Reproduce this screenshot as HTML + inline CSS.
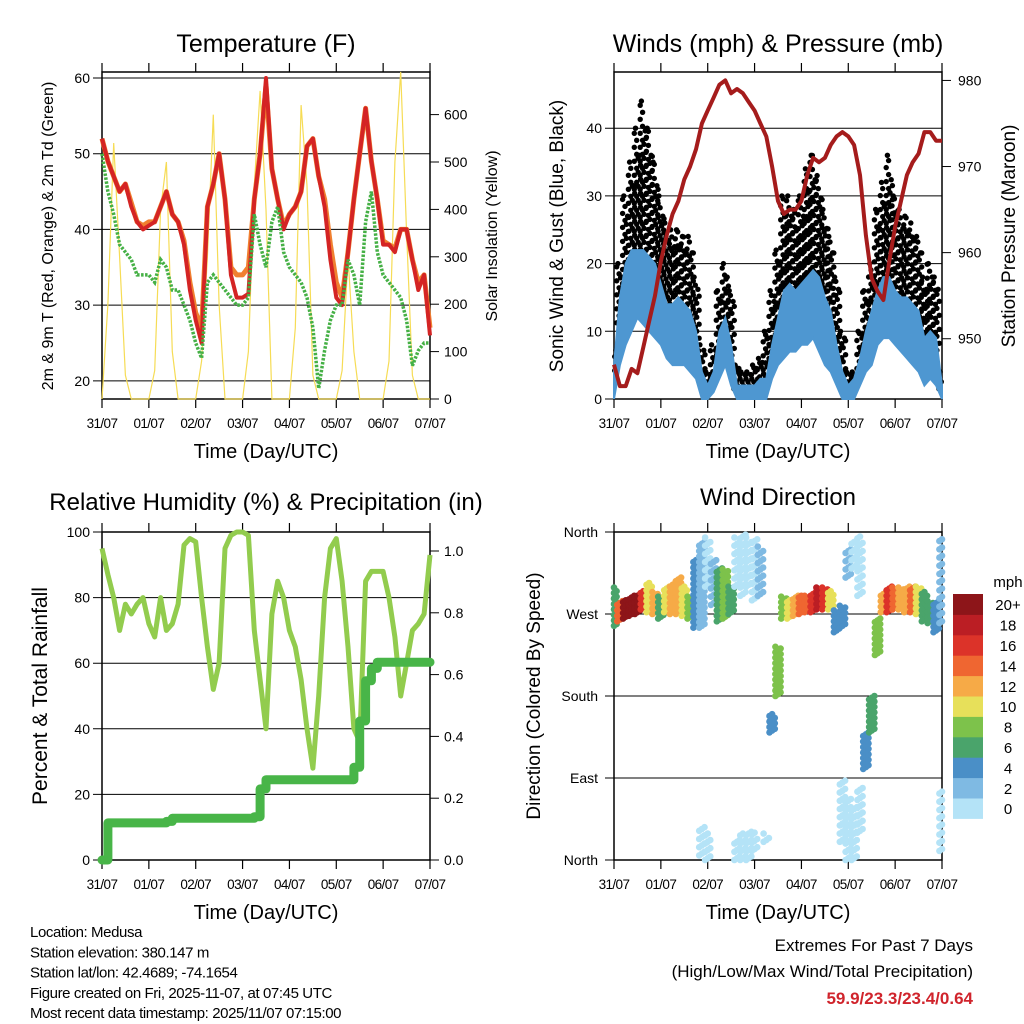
<!DOCTYPE html>
<html><head><meta charset="utf-8"><title>Station Meteogram</title>
<style>
html,body{margin:0;padding:0;background:#fff;}
svg{display:block;font-family:"Liberation Sans",sans-serif;}
.tk{font-size:13.5px;letter-spacing:-0.6px;}
</style></head>
<body>
<svg id="fig" width="1024" height="1024" viewBox="0 0 1024 1024" xmlns="http://www.w3.org/2000/svg">
<g id="root"></g>
</svg>
<script>
// ---------- data (3-hourly, 57 samples from 31/07 00 UTC to 07/07) ----------
const dayLabels = ["31/07","01/07","02/07","03/07","04/07","05/07","06/07","07/07"];
const temp2m = [52,49,47,45,46,43,41,40,40.5,41,43,45,42,41,38,32,28,25,43,46,50,44,34,31,31,31.5,44,50,60,48,44,40,42,43,45,51,52,47,43,36,31,30,37,44,50,56,49,44,38,38,37,40,40,36,32,34,26];
const temp9m = [52,49,47,45,46,43.5,41,40.5,41,41,43,45,42,41,38.5,33,29,27,43,46,50,44,35,34,34,35,44,50,59,48,44,40.5,42,43,45,51,52,47,44,38,33,31,37,44,50,56,49,44,38.5,38,37.5,40,40,36,33,34,27];
const dewpt = [50,45,42,38,37,36,34,34,34,33,36,35,32,32,30,28,25,23,33,34,33,32,31,30,30,31,42,38,35,41,43,37,35,34,33,31,27,19,24,28,30,30,36,34,30,41,45,37,34,33,32,31,28,22,24,25,25];
const solar = [0,200,540,300,50,0,0,0,0,60,400,500,100,0,0,0,0,80,300,600,200,0,0,0,0,100,450,650,400,0,0,0,0,150,620,450,50,0,0,0,0,60,300,100,0,0,0,0,0,80,500,690,350,50,0,0,0];
const windLo = [0,5,8,10,12,11,10,9,8,6,5,5,5,4,3,0,0,1,3,5,2,0,0,0,0,0,0,3,5,6,7,7,8,8,9,7,5,4,2,0,0,0,2,4,5,8,9,9,8,7,6,5,4,2,3,2,0];
const windHi = [5,15,20,22,22,22,21,20,17,14,14,15,14,13,10,4,2,4,10,12,8,2,2,2,2,3,3,8,12,16,17,16,17,18,19,18,15,13,8,4,2,3,6,10,13,16,18,18,16,15,15,14,13,9,10,9,2];
const gust = [8,20,30,35,40,44,40,35,30,26,25,25,24,24,18,8,4,8,16,20,16,5,4,4,5,6,10,16,22,30,30,28,30,34,36,33,28,24,18,10,4,4,10,16,20,28,32,36,30,28,27,26,24,18,20,18,4];
const pressure = [947,944.5,944.5,946.5,946,949,952,955,959,962,964.5,966,968.5,970,972,975,976.5,978,979.5,980,978.5,979,978.5,977.5,976.5,975,973.5,970,966,964.5,965,965,966,969,971,970.5,971,972.5,973.5,974,973.5,972.5,969,962,957,955.5,954.5,959,963,966,969,970.5,971.5,974,974,973,973];
const rh = [95,87,80,70,78,75,78,80,72,68,80,70,72,78,96,98,97,80,65,52,60,95,99,100,100,99,70,55,40,75,85,80,70,65,55,40,28,50,80,95,98,85,65,40,36,85,88,88,88,80,68,50,60,70,72,75,93];
const precip = [0,0.12,0.12,0.12,0.12,0.12,0.12,0.12,0.12,0.12,0.12,0.125,0.135,0.135,0.135,0.135,0.135,0.135,0.135,0.135,0.135,0.135,0.135,0.135,0.135,0.135,0.14,0.23,0.26,0.26,0.26,0.26,0.26,0.26,0.26,0.26,0.26,0.26,0.26,0.26,0.26,0.26,0.26,0.30,0.45,0.58,0.62,0.64,0.64,0.64,0.64,0.64,0.64,0.64,0.64,0.64,0.64];
const dirLo = [255,262,265,268,270,275,272,270,265,272,270,270,268,265,255,255,300,280,262,265,270,300,290,300,285,290,20,140,180,265,265,268,270,272,272,275,275,275,250,255,310,320,290,100,140,225,272,272,275,275,272,272,270,262,260,250,260];
const dirHi = [300,285,285,290,292,295,305,295,290,300,305,310,300,290,330,350,355,330,320,320,300,355,360,355,355,345,30,160,235,290,285,290,290,290,295,300,300,295,275,280,345,355,355,140,180,265,295,300,300,300,300,300,300,295,285,285,355];
const dirSpd = [6,14,20,20,20,16,10,12,6,10,12,12,10,8,4,3,1,2,6,8,6,1,1,1,1,2,1,5,8,8,10,12,14,14,16,18,16,10,4,4,2,1,1,4,6,8,12,16,14,12,12,14,10,7,6,4,2];
const dir2Lo = [-1,-1,-1,-1,-1,-1,-1,-1,-1,-1,-1,-1,-1,-1,-1,5,0,-1,-1,-1,-1,0,0,0,10,-1,-1,-1,-1,-1,-1,-1,-1,-1,-1,-1,-1,-1,-1,20,0,0,30,-1,-1,-1,-1,-1,-1,-1,-1,-1,-1,-1,-1,-1,10];
const dir2Hi = [-1,-1,-1,-1,-1,-1,-1,-1,-1,-1,-1,-1,-1,-1,-1,40,30,-1,-1,-1,-1,25,30,35,30,-1,-1,-1,-1,-1,-1,-1,-1,-1,-1,-1,-1,-1,-1,90,70,60,80,-1,-1,-1,-1,-1,-1,-1,-1,-1,-1,-1,-1,-1,80];
const speedBins = ["0","2","4","6","8","10","12","14","16","18","20+"];
const speedColors = ["#b4e3f7","#7fbae3","#4a8fc7","#4aa46b","#7dc24b","#e7e05a","#f6aa47","#ef6631","#dc3329","#bb1e24","#8d1519"];

// ---------- helpers ----------
const NS = "http://www.w3.org/2000/svg";
const root = document.getElementById("root");
function mk(tag, attrs, parent){
  const e = document.createElementNS(NS, tag);
  for (const k in attrs) e.setAttribute(k, attrs[k]);
  (parent||root).appendChild(e);
  return e;
}
function txt(s, x, y, size, anchor, parent, extra){
  const t = mk("text", Object.assign({x:x, y:y, "font-size":size, "text-anchor":anchor||"middle", fill:"#000"}, extra||{}), parent);
  t.textContent = s;
  return t;
}
const N = 56;
function xs(X0, X1){ return i => X0 + (X1-X0)*i/N; }
function color(sp){ let k = Math.min(10, Math.max(0, Math.floor(sp/2))); return speedColors[k]; }

function frame(X0,X1,Y0,Y1,name){
  const g = mk("g",{});
  
  
  mk("rect",{x:X0,y:Y0,width:X1-X0,height:Y1-Y0,fill:"none",stroke:"#000","stroke-width":1.5},g);
  for(let k=0;k<8;k++){
    const x = X0+(X1-X0)*k/7;
    mk("line",{x1:x,y1:Y1,x2:x,y2:Y1+9,stroke:"#000","stroke-width":1.2},g);
    mk("line",{x1:x,y1:Y0,x2:x,y2:Y0-9,stroke:"#000","stroke-width":1.2},g);
    const t = txt(dayLabels[k], x, Y1+29, 13.5, "middle", g, {class:"tk"});
    
    
  }
  const xt = txt("Time (Day/UTC)", (X0+X1)/2, Y1+59, 20, "middle", g);
  
  
  return g;
}
function hgrid(g,X0,X1,y){ mk("line",{x1:X0-9,y1:y,x2:X1,y2:y,stroke:"#000","stroke-width":1},g); }
function poly(pts){ return pts.map(p=>p[0].toFixed(1)+","+p[1].toFixed(1)).join(" "); }

// ---------- Panel 1: Temperature ----------
(function(){
  const X0=102,X1=430,Y0=72,Y1=399;
  const x = xs(X0,X1);
  const yL = v => Y1 - (v-17.6)*7.57;
  const yR = v => Y1 - v*0.474;
  const g = frame(X0,X1,Y0,Y1,"temperature");
  [20,30,40,50,60].forEach(v=>{ hgrid(g,X0,X1,yL(v)); const t=txt(String(v),X0-12,yL(v)+5,14,"end",g);   });
  [0,100,200,300,400,500,600].forEach(v=>{ mk("line",{x1:X1,y1:yR(v),x2:X1+9,y2:yR(v),stroke:"#000"},g); const t=txt(String(v),X1+14,yR(v)+5,14,"start",g);   });
  const sol = mk("polyline",{points:poly(solar.map((v,i)=>[x(i),yR(v)])),fill:"none",stroke:"#f6dc55","stroke-width":1.2});
  
  
  const o = mk("polyline",{points:poly(temp9m.map((v,i)=>[x(i),yL(v)])),fill:"none",stroke:"#f08030","stroke-width":5,"stroke-linejoin":"round"});
  
  
  const r = mk("polyline",{points:poly(temp2m.map((v,i)=>[x(i),yL(v)])),fill:"none",stroke:"#d42424","stroke-width":4,"stroke-linejoin":"round"});
  
  
  const d = mk("polyline",{points:poly(dewpt.map((v,i)=>[x(i),yL(v)])),fill:"none",stroke:"#45b045","stroke-width":3.5,"stroke-dasharray":"2.5 1.5"});
  
  
  const t1 = txt("Temperature (F)", 266, 52, 25, "middle");
  
  
  const a = txt("2m & 9m T (Red, Orange) & 2m Td (Green)", 0, 0, 16, "middle", root, {transform:"translate(53,236) rotate(-90)"});
  
  
  const b = txt("Solar Insolation (Yellow)", 0, 0, 16, "middle", root, {transform:"translate(497,236) rotate(-90)"});
  
  
})();

// ---------- Panel 2: Winds & Pressure ----------
(function(){
  const X0=614,X1=942,Y0=72,Y1=399;
  const x = xs(X0,X1);
  const yW = v => Y1 - v*6.77;
  const yP = p => Y1 - (p-943)*8.61;
  const g = frame(X0,X1,Y0,Y1,"winds");
  [0,10,20,30,40].forEach(v=>{ hgrid(g,X0,X1,yW(v)); const t=txt(String(v),X0-12,yW(v)+5,14,"end",g);   });
  [950,960,970,980].forEach(v=>{ mk("line",{x1:X1,y1:yP(v),x2:X1+9,y2:yP(v),stroke:"#000"},g); const t=txt(String(v),X1+16,yP(v)+5,14,"start",g);   });
  const gg = mk("g",{});
  
  
  const step = (X1-X0)/N;
  gust.forEach((v,i)=>{
    [-0.33,0.33].forEach((dx,c)=>{
      const xi = x(i)+dx*step;
      if (xi<X0||xi>X1) return;
      const yTop = yW(v*(c?0.9:1)), yBot = yW(windHi[i]*0.75);
      let n=0;
      for(let yy=yBot-(c?3:0); yy>=yTop; yy-=7){
        mk("circle",{cx:(xi+((n++)%2?1.2:-1.2)).toFixed(1),cy:yy.toFixed(1),r:2.7,fill:"#000"},gg);
      }
      mk("circle",{cx:xi.toFixed(1),cy:yTop.toFixed(1),r:2.7,fill:"#000"},gg);
    });
  });
  const band = windHi.map((v,i)=>[x(i),yW(v)]).concat(windLo.map((v,i)=>[x(i),yW(v)]).reverse());
  const bl = mk("polygon",{points:poly(band),fill:"#4e97d1",stroke:"#4e97d1","stroke-width":2});
  
  
  const p = mk("polyline",{points:poly(pressure.map((v,i)=>[x(i),yP(v)])),fill:"none",stroke:"#a51c1c","stroke-width":4,"stroke-linejoin":"round"});
  
  
  const t1 = txt("Winds (mph) & Pressure (mb)", 778, 52, 25, "middle");
  
  
  const a = txt("Sonic Wind & Gust (Blue, Black)", 0, 0, 19, "middle", root, {transform:"translate(563,236) rotate(-90)"});
  
  
  const b = txt("Station Pressure (Maroon)", 0, 0, 19, "middle", root, {transform:"translate(1015,236) rotate(-90)"});
  
  
})();

// ---------- Panel 3: RH & Precip ----------
(function(){
  const X0=102,X1=430,Y0=532,Y1=860;
  const x = xs(X0,X1);
  const yH = v => Y1 - v*3.28;
  const yI = v => Y1 - v*309;
  const g = frame(X0,X1,Y0,Y1,"humidity");
  [0,20,40,60,80,100].forEach(v=>{ hgrid(g,X0,X1,yH(v)); const t=txt(String(v),X0-12,yH(v)+5,14,"end",g);   });
  [0,0.2,0.4,0.6,0.8,1.0].forEach(v=>{ mk("line",{x1:X1,y1:yI(v),x2:X1+9,y2:yI(v),stroke:"#000"},g); const t=txt(v.toFixed(1),X1+14,yI(v)+5,14,"start",g);   });
  const h = mk("polyline",{points:poly(rh.map((v,i)=>[x(i),yH(v)])),fill:"none",stroke:"#92cc4e","stroke-width":5,"stroke-linejoin":"round"});
  
  
  const pts = [];
  precip.forEach((v,i)=>{ if(i>0) pts.push([x(i),yI(precip[i-1])]); pts.push([x(i),yI(v)]); });
  const pr = mk("polyline",{points:poly(pts),fill:"none",stroke:"#48b548","stroke-width":9,"stroke-linejoin":"round","stroke-linecap":"round"});
  
  
  const t1 = txt("Relative Humidity (%) & Precipitation (in)", 266, 510, 24, "middle");
  
  
  const a = txt("Percent & Total Rainfall", 0, 0, 21, "middle", root, {transform:"translate(47,696) rotate(-90)"});
  
  
})();

// ---------- Panel 4: Wind Direction ----------
(function(){
  const X0=614,X1=942,Y0=532,Y1=860;
  const x = xs(X0,X1);
  const yD = d => Y1 - d*(Y1-Y0)/360;
  const g = frame(X0,X1,Y0,Y1,"wind-direction");
  [[360,"North"],[270,"West"],[180,"South"],[90,"East"],[0,"North"]].forEach(([d,l])=>{ hgrid(g,X0,X1,yD(d)); const t=txt(l,X0-16,yD(d)+5,14,"end",g);   });
  const gd = mk("g",{});
  
  
  const step = (X1-X0)/N;
  function cluster(i, lo, hi, sp, sparse){
    for(let c=-1;c<=1;c++){
      const xi = x(i)+c*step*0.45;
      if (xi<X0-1||xi>X1+1) continue;
      for(let d=lo+(c+1)*2; d<=hi; d+=(sparse?9:6)){
        mk("circle",{cx:xi.toFixed(1),cy:yD(d).toFixed(1),r:3.3,fill:color(sp)},gd);
      }
    }
  }
  dirLo.forEach((lo,i)=>cluster(i, lo, dirHi[i], dirSpd[i], dirSpd[i]<3));
  dir2Lo.forEach((lo,i)=>{ if(lo>=0) cluster(i, lo, dir2Hi[i], 1, true); });
  // legend
  const lg = mk("g",{});
  
  
  const lt = txt("mph", 1008, 587, 15, "middle", lg);
  
  
  const bh = 20.4, top = 594;
  for(let k=0;k<11;k++){
    const yy = top + (10-k)*bh;
    const r = mk("rect",{x:953,y:yy.toFixed(1),width:30,height:(bh+0.5).toFixed(1),fill:speedColors[k]},lg);
    
    
    const t = txt(speedBins[k], 1008, yy+bh/2+6, 15, "middle", lg);
    
    
  }
  const t1 = txt("Wind Direction", 778, 505, 24, "middle");
  
  
  const a = txt("Direction (Colored By Speed)", 0, 0, 19, "middle", root, {transform:"translate(540,696) rotate(-90)"});
  
  
})();

// ---------- footer text ----------
(function(){
  const info = ["Location: Medusa","Station elevation: 380.147 m","Station lat/lon: 42.4689; -74.1654","Figure created on Fri, 2025-11-07, at 07:45 UTC","Most recent data timestamp: 2025/11/07 07:15:00"];
  info.forEach((s,k)=>{
    const t = txt(s, 30, 937+k*20.3, 15, "start", root, {"letter-spacing":"-0.4"});
    
    
  });
  const e1 = txt("Extremes For Past 7 Days", 973, 951, 17, "end");
  
  
  const e2 = txt("(High/Low/Max Wind/Total Precipitation)", 973, 977, 17, "end");
  
  
  const e3 = txt("59.9/23.3/23.4/0.64", 973, 1004, 17, "end", root, {fill:"#d0242c","font-weight":"bold"});
  
  
})();
</script>
</body></html>
